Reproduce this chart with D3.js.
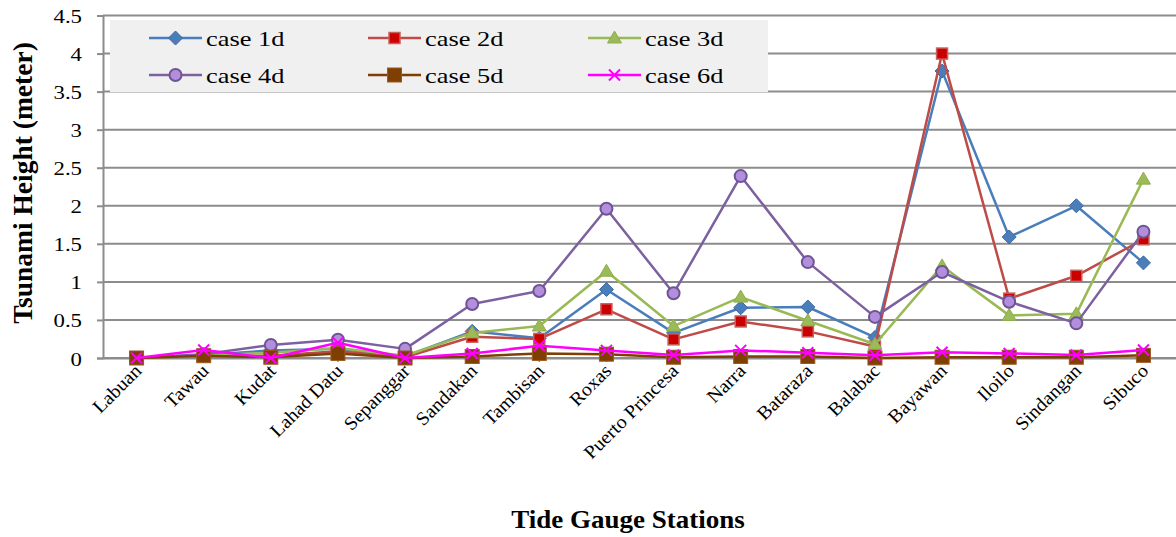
<!DOCTYPE html>
<html>
<head>
<meta charset="utf-8">
<script src="https://cdn.jsdelivr.net/npm/d3@7"></script>
<style>
  html, body { margin: 0; padding: 0; background: #fff; }
  svg text { font-family: "Liberation Serif", "Times New Roman", serif; fill: #000; }
</style>
</head>
<body>
<svg id="chart" width="1176" height="537"></svg>
<script>
// Tide gauge stations along the x axis
const stations = ["Labuan", "Tawau", "Kudat", "Lahad Datu", "Sepanggar", "Sandakan",
  "Tambisan", "Roxas", "Puerto Princesa", "Narra", "Bataraza", "Balabac",
  "Bayawan", "Iloilo", "Sindangan", "Sibuco"];

// Tsunami height (m) per scenario
const case1d = [0, 0.04, 0.10, 0.12, 0.02, 0.35, 0.26, 0.90, 0.33, 0.66, 0.67, 0.27, 3.77, 1.59, 2.00, 1.25];
const case2d = [0, 0.03, 0.03, 0.09, 0.01, 0.28, 0.25, 0.64, 0.245, 0.48, 0.35, 0.15, 4.00, 0.78, 1.08, 1.56];
const case3d = [0, 0.03, 0.07, 0.13, 0.03, 0.33, 0.42, 1.14, 0.42, 0.80, 0.49, 0.18, 1.21, 0.56, 0.58, 2.35];
const case4d = [0, 0.05, 0.17, 0.24, 0.12, 0.71, 0.88, 1.96, 0.85, 2.39, 1.26, 0.54, 1.13, 0.74, 0.455, 1.66];
const case5d = [0, 0.03, 0.01, 0.06, 0, 0.02, 0.06, 0.05, 0.01, 0.02, 0.02, 0, 0.01, 0.01, 0.01, 0.035];
const case6d = [0, 0.105, 0, 0.20, 0, 0.06, 0.16, 0.10, 0.04, 0.10, 0.07, 0.035, 0.075, 0.06, 0.04, 0.105];

const seriesNames = ["case 1d", "case 2d", "case 3d", "case 4d", "case 5d", "case 6d"];

// y axis ticks
const yTicks = [0, 0.5, 1, 1.5, 2, 2.5, 3, 3.5, 4, 4.5];
const yTickLabels = ["0", "0.5", "1", "1.5", "2", "2.5", "3", "3.5", "4", "4.5"];

const yTitle = "Tsunami Height (meter)";
const xTitle = "Tide Gauge Stations";

// ---- styling ----
const styles = [
  { line: "#4A7EBB", fill: "#4A7EBB", stroke: "#3C6A9E", shape: "diamond" },
  { line: "#BE4B48", fill: "#CC0000", stroke: "#C8605C", shape: "square" },
  { line: "#98B954", fill: "#9BBB59", stroke: "#8EAE4C", shape: "triangle" },
  { line: "#7D60A0", fill: "#B38EDC", stroke: "#6E5494", shape: "circle" },
  { line: "#7F3F00", fill: "#7F3F00", stroke: "#9A5A22", shape: "bigsquare" },
  { line: "#FF00FF", fill: "none", stroke: "#FF00FF", shape: "cross" }
];
const seriesData = [case1d, case2d, case3d, case4d, case5d, case6d];

const TX = 1.2; // horizontal text stretch for tick and legend labels

const svg = d3.select("#chart");
const plot = { left: 103, right: 1177, top: 15.5, bottom: 358 };

const x = d3.scaleBand().domain(stations).range([plot.left, plot.right]);
const cx = s => x(s) + x.bandwidth() / 2;
const y = d3.scaleLinear().domain([0, 4.5]).range([plot.bottom, plot.top]);

const gridColor = "#8C8C8C";

// gridlines
svg.append("g").selectAll("line").data(yTicks).join("line")
  .attr("x1", plot.left).attr("x2", plot.right)
  .attr("y1", d => y(d)).attr("y2", d => y(d))
  .attr("stroke", gridColor).attr("stroke-width", 2);

// y axis
const yAxis = svg.append("g").attr("transform", `translate(${plot.left},0)`)
  .call(d3.axisLeft(y).tickValues(yTicks).tickSize(6)
    .tickFormat((d, i) => yTickLabels[i]));
yAxis.select(".domain").attr("stroke", gridColor).attr("stroke-width", 2);
yAxis.selectAll(".tick line").attr("stroke", gridColor).attr("stroke-width", 2);
yAxis.selectAll(".tick text")
  .attr("x", null).attr("dy", null)
  .attr("transform", "translate(-21,7) scale(" + TX + ",1)")
  .attr("text-anchor", "end")
  .style("font-size", "19px").style("font-family", "Liberation Serif");

// x axis
const xAxis = svg.append("g").attr("transform", `translate(0,${plot.bottom})`)
  .call(d3.axisBottom(x).tickSize(4).tickSizeOuter(0));
xAxis.select(".domain").attr("stroke", gridColor).attr("stroke-width", 2);
xAxis.selectAll(".tick line").attr("stroke", gridColor).attr("stroke-width", 1.5);
xAxis.selectAll(".tick text")
  .attr("y", null).attr("dy", null)
  .attr("text-anchor", "end")
  .attr("transform", "translate(6,14) rotate(-45) scale(1.05,1)")
  .style("font-size", "19px").style("font-family", "Liberation Serif");

// marker drawing
function drawMarker(g, shape, st) {
  switch (shape) {
    case "diamond":
      g.append("path").attr("d", "M0,-7L7,0L0,7L-7,0Z")
        .attr("fill", st.fill).attr("stroke", st.stroke).attr("stroke-width", 1);
      break;
    case "square":
      g.append("rect").attr("x", -5.5).attr("y", -5.5).attr("width", 11).attr("height", 11)
        .attr("fill", st.fill).attr("stroke", st.stroke).attr("stroke-width", 1.5);
      break;
    case "bigsquare":
      g.append("rect").attr("x", -7).attr("y", -7).attr("width", 14).attr("height", 14)
        .attr("fill", st.fill).attr("stroke", st.stroke).attr("stroke-width", 1);
      break;
    case "triangle":
      g.append("path").attr("d", "M0,-7L7,5L-7,5Z")
        .attr("fill", st.fill).attr("stroke", st.stroke).attr("stroke-width", 1);
      break;
    case "circle":
      g.append("circle").attr("r", 6)
        .attr("fill", st.fill).attr("stroke", st.stroke).attr("stroke-width", 2);
      break;
    case "cross":
      g.append("path").attr("d", "M-5.5,-5.5L5.5,5.5M-5.5,5.5L5.5,-5.5")
        .attr("fill", "none").attr("stroke", st.stroke).attr("stroke-width", 2);
      break;
  }
}

// series lines + markers
const lineGen = d3.line().x((d, i) => cx(stations[i])).y(d => y(d));
seriesData.forEach((vals, k) => {
  const st = styles[k];
  const g = svg.append("g");
  g.append("path").datum(vals).attr("d", lineGen)
    .attr("fill", "none").attr("stroke", st.line).attr("stroke-width", 2.5)
    .attr("stroke-linejoin", "round");
  g.selectAll("g.m").data(vals).join("g").attr("class", "m")
    .attr("transform", (d, i) => `translate(${cx(stations[i])},${y(d)})`)
    .each(function () { drawMarker(d3.select(this), st.shape, st); });
});

// legend
const legend = svg.append("g");
legend.append("rect").attr("x", 110).attr("y", 20).attr("width", 658).attr("height", 72)
  .attr("fill", "#F0F0F0");
const colX = [149, 368, 588];
const rowY = [38, 75];
seriesNames.forEach((name, k) => {
  const lx = colX[k % 3], ly = rowY[Math.floor(k / 3)];
  const st = styles[k];
  legend.append("line").attr("x1", lx).attr("x2", lx + 53).attr("y1", ly).attr("y2", ly)
    .attr("stroke", st.line).attr("stroke-width", 2.5);
  const m = legend.append("g").attr("transform", `translate(${lx + 26.5},${ly})`);
  drawMarker(m, st.shape, st);
  legend.append("text")
    .attr("transform", `translate(${lx + 57},${ly + 8}) scale(${TX},1)`)
    .style("font-size", "22px").text(name);
});

// axis titles
svg.append("text")
  .attr("transform", "translate(32,183) rotate(-90)")
  .attr("text-anchor", "middle").style("font-size", "27.5px").style("font-weight", "bold")
  .text(yTitle);
svg.append("text")
  .attr("transform", "translate(628,528) scale(1.08,1)")
  .attr("text-anchor", "middle").style("font-size", "25px").style("font-weight", "bold")
  .text(xTitle);
</script>
</body>
</html>
